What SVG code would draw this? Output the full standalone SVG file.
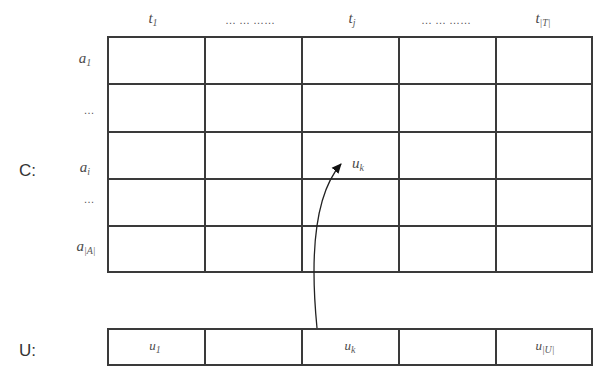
<svg xmlns="http://www.w3.org/2000/svg" width="593" height="367" viewBox="0 0 593 367">
<defs>
<style>
.g{fill:none;stroke:#3a3a3a;stroke-width:2}
.m{font-family:"Liberation Serif",serif;font-style:italic;font-size:15px;fill:#4a4a4a;text-anchor:middle}
.s{font-family:"Liberation Serif",serif;font-style:italic;font-size:10px;fill:#5a5a5a}
.d{font-family:"Liberation Sans",sans-serif;font-size:11px;fill:#555;text-anchor:middle}
.l{font-family:"Liberation Sans",sans-serif;font-size:17px;fill:#333}
</style>
<marker id="ah" markerWidth="12" markerHeight="12" refX="9" refY="5" orient="auto" markerUnits="userSpaceOnUse">
<path d="M0,0.5 L10,5 L0,9.5 Z" fill="#111"/>
</marker>
</defs>
<rect width="593" height="367" fill="#fff"/>
<g id="matrixC">
<rect class="g" x="108" y="37" width="484" height="235"/>
<path class="g" d="M205,37V272M302,37V272M399,37V272M496,37V272M108,84H592M108,132H592M108,179H592M108,226H592"/>
</g>
<g id="columnLabels">
<text class="m" x="153" y="23">t<tspan class="s" dy="3">1</tspan></text>
<text class="d" x="250" y="24">… … ……</text>
<text class="m" x="352" y="23">t<tspan class="s" dy="3">j</tspan></text>
<text class="d" x="446" y="24">… … ……</text>
<text class="m" x="543" y="23">t<tspan class="s" dy="3">|T|</tspan></text>
</g>
<g id="rowLabels">
<text class="m" x="85" y="63">a<tspan class="s" dy="3">1</tspan></text>
<text class="d" x="89" y="114">…</text>
<text class="m" x="85" y="172">a<tspan class="s" dy="3">i</tspan></text>
<text class="d" x="89" y="203">…</text>
<text class="m" x="86" y="251">a<tspan class="s" dy="3">|A|</tspan></text>
<text class="l" x="19" y="176">C:</text>
</g>
<g id="cellUk">
<text class="m" x="358" y="168">u<tspan class="s" dy="3">k</tspan></text>
</g>
<g id="vectorU">
<rect class="g" x="108" y="329" width="484" height="36"/>
<path class="g" d="M205,329V365M302,329V365M399,329V365M496,329V365"/>
<text class="m" x="155" y="350" style="font-size:13px">u<tspan class="s" dy="3">1</tspan></text>
<text class="m" x="350" y="350" style="font-size:13px">u<tspan class="s" dy="3">k</tspan></text>
<text class="m" x="545" y="350" style="font-size:13px">u<tspan class="s" dy="3">|U|</tspan></text>
<text class="l" x="19" y="356">U:</text>
</g>
<g id="connectors">
<path d="M317,328 Q305,205 341,164" fill="none" stroke="#222" stroke-width="1.3" marker-end="url(#ah)"/>
</g>
</svg>
